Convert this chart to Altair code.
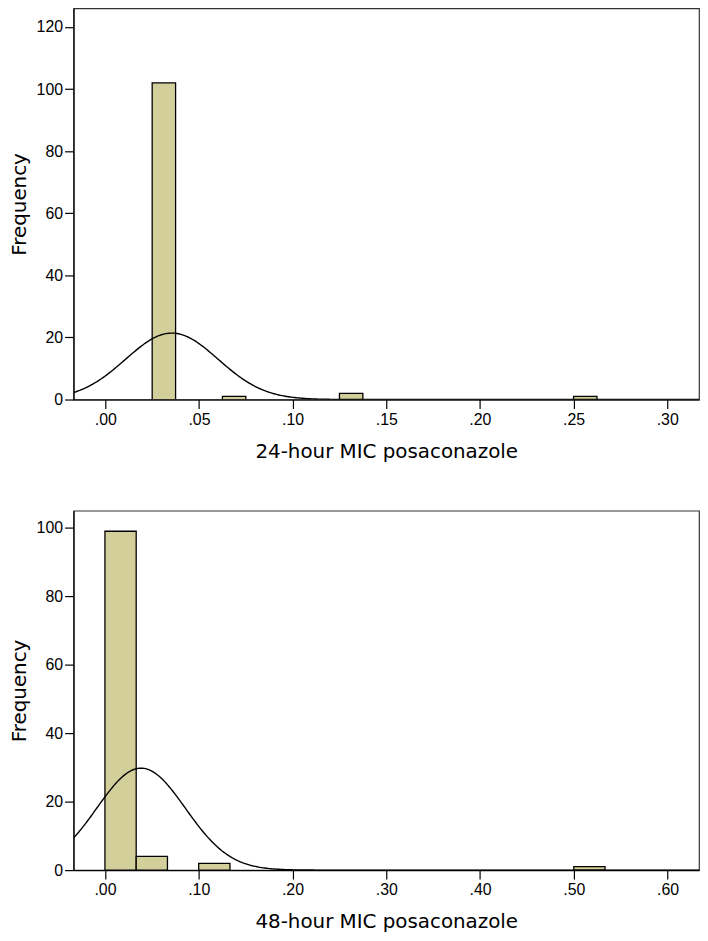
import altair as alt
import numpy as np
import pandas as pd

# ---- 24-hour histogram ----
top_bin_lo = [0.025, 0.0625, 0.125, 0.25]
top_bin_hi = [0.0375, 0.075, 0.1375, 0.2625]
top_counts = [102, 1, 2, 1]
top_n = 106
top_binw = 0.0125
top_mean = 0.0355
top_sd = 0.0247
top_xdomain = [-0.017, 0.317]
top_ydomain = [0, 126]
top_xticks = [0.0, 0.05, 0.10, 0.15, 0.20, 0.25, 0.30]
top_yticks = [0, 20, 40, 60, 80, 100, 120]

# ---- 48-hour histogram ----
bot_bin_lo = [0.0, 0.03333, 0.1, 0.5]
bot_bin_hi = [0.03333, 0.06667, 0.13333, 0.53333]
bot_counts = [99, 4, 2, 1]
bot_n = 106
bot_binw = 0.03333
bot_mean = 0.0385
bot_sd = 0.0473
bot_xdomain = [-0.0335, 0.6335]
bot_ydomain = [0, 105]
bot_xticks = [0.0, 0.10, 0.20, 0.30, 0.40, 0.50, 0.60]
bot_yticks = [0, 20, 40, 60, 80, 100]

BAR = "#d3cf9b"


def normal_curve(n, binw, mean, sd, dom):
    xs = np.linspace(dom[0], dom[1], 400)
    ys = n * binw / (sd * np.sqrt(2 * np.pi)) * np.exp(-0.5 * ((xs - mean) / sd) ** 2)
    return pd.DataFrame({"x": xs, "y": ys})


def panel(lo, hi, counts, n, binw, mean, sd, xdom, ydom, xticks, yticks, title, h):
    bars_df = pd.DataFrame({"lo": lo, "hi": hi, "count": counts, "base": [0] * len(counts)})
    xs = alt.Scale(domain=xdom, nice=False, zero=False)
    ys = alt.Scale(domain=ydom, nice=False)
    xaxis = alt.Axis(
        values=xticks,
        labelExpr="replace(format(datum.value, '.2f'), '0.', '.')",
        title=title,
    )
    yaxis = alt.Axis(values=yticks, title="Frequency")
    bars = alt.Chart(bars_df).mark_rect(
        fill=BAR, stroke="black", strokeWidth=1.3, clip=True
    ).encode(
        x=alt.X("lo:Q", scale=xs, axis=xaxis),
        x2="hi:Q",
        y=alt.Y("count:Q", scale=ys, axis=yaxis),
        y2="base:Q",
    )
    curve = alt.Chart(normal_curve(n, binw, mean, sd, xdom)).mark_line(
        color="black", strokeWidth=1.4, clip=True
    ).encode(
        x=alt.X("x:Q", scale=xs),
        y=alt.Y("y:Q", scale=ys),
    )
    return alt.layer(bars, curve).properties(width=630, height=h)


top = panel(top_bin_lo, top_bin_hi, top_counts, top_n, top_binw, top_mean, top_sd,
            top_xdomain, top_ydomain, top_xticks, top_yticks,
            "24-hour MIC posaconazole", 394)
bot = panel(bot_bin_lo, bot_bin_hi, bot_counts, bot_n, bot_binw, bot_mean, bot_sd,
            bot_xdomain, bot_ydomain, bot_xticks, bot_yticks,
            "48-hour MIC posaconazole", 362)

chart = alt.vconcat(
    top, bot, spacing=48,
    padding={"top": -4, "left": 0, "right": 0, "bottom": 0},
    background="white",
).configure_view(
    stroke="#333333", strokeWidth=1.2
).configure_axis(
    grid=False,
    domainColor="black",
    domainWidth=1.2,
    tickColor="black",
    tickWidth=1.2,
    tickSize=9,
    labelFont="Liberation Sans",
    labelFontSize=16,
    labelColor="black",
    titleFont="DejaVu Sans",
    titleFontSize=20,
    titleFontWeight="normal",
    titleColor="black",
).configure_axisX(
    labelPadding=3, titlePadding=14
).configure_axisY(
    labelPadding=2, titlePadding=7
)

chart.save("out.html", embed_options={"renderer": "svg", "actions": False})
